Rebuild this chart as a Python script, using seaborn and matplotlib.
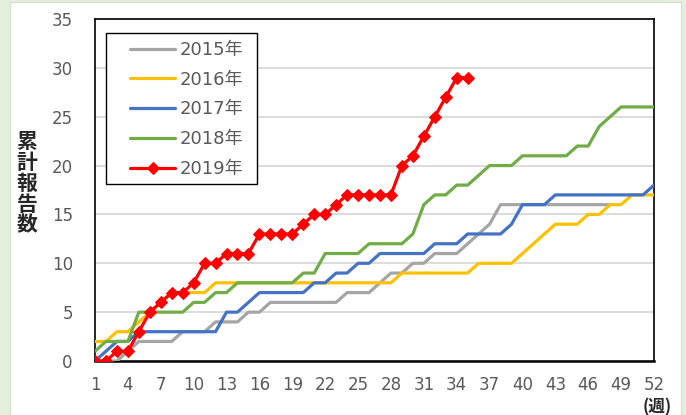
import matplotlib
matplotlib.use("Agg")
import matplotlib.pyplot as plt
import seaborn as sns
from matplotlib.patches import Rectangle

# 週ごとの累計報告数
weeks = list(range(1, 53))
years = ["2015年", "2016年", "2017年", "2018年", "2019年"]
colors = ["#A5A5A5", "#FFC000", "#4472C4", "#70AD47", "#FF0000"]

y2015 = [0, 0, 0, 1, 2, 2, 2, 2, 3, 3, 3, 4, 4, 4, 5, 5, 6, 6, 6, 6, 6, 6, 6, 7, 7, 7,
         8, 9, 9, 10, 10, 11, 11, 11, 12, 13, 14, 16, 16, 16, 16, 16, 16, 16, 16, 16, 16, 16]
y2016 = [2, 2, 3, 3, 4, 5, 6, 7, 7, 7, 7, 8, 8, 8, 8, 8, 8, 8, 8, 8, 8, 8, 8, 8, 8, 8,
         8, 8, 9, 9, 9, 9, 9, 9, 9, 10, 10, 10, 10, 11, 12, 13, 14, 14, 14, 15, 15, 16, 16, 17, 17, 17]
y2017 = [0, 1, 2, 2, 3, 3, 3, 3, 3, 3, 3, 3, 5, 5, 6, 7, 7, 7, 7, 7, 8, 8, 9, 9, 10, 10,
         11, 11, 11, 11, 11, 12, 12, 12, 13, 13, 13, 13, 14, 16, 16, 16, 17, 17, 17, 17, 17, 17, 17, 17, 17, 18]
y2018 = [1, 2, 2, 2, 5, 5, 5, 5, 5, 6, 6, 7, 7, 8, 8, 8, 8, 8, 8, 9, 9, 11, 11, 11, 11, 12,
         12, 12, 12, 13, 16, 17, 17, 18, 18, 19, 20, 20, 20, 21, 21, 21, 21, 21, 22, 22, 24, 25, 26, 26, 26, 26]
y2019 = [0, 0, 1, 1, 3, 5, 6, 7, 7, 8, 10, 10, 11, 11, 11, 13, 13, 13, 13, 14, 15, 15, 16, 17, 17,
         17, 17, 17, 20, 21, 23, 25, 27, 29, 29]

series = [y2015, y2016, y2017, y2018, y2019]

sns.set_theme(style="white")
plt.rcParams['font.family'] = ['DejaVu Sans', 'Noto Sans CJK JP']

W, H = 686, 415
fig = plt.figure(figsize=(W / 100, H / 100), dpi=100)
fig.patch.set_facecolor("#E4EFDC")
# 白いチャート領域
fig.add_artist(Rectangle((10 / W, 0), 671 / W, 413 / H, transform=fig.transFigure,
                         facecolor="white", edgecolor="#D3DDCB", lw=0.8, zorder=0))

ax = fig.add_axes([95 / W, 1 - 361 / H, 559 / W, 342 / H])
ax.set_facecolor("white")

for name, vals, c in zip(years, series, colors):
    kw = {}
    if name == "2019年":
        kw = dict(marker="D", markersize=6, markeredgecolor=c, markerfacecolor=c)
    sns.lineplot(x=weeks[:len(vals)], y=vals, color=c, linewidth=2.3, label=name,
                 ax=ax, zorder=3, **kw)

ax.set_xlim(1, 52)
ax.set_ylim(0, 35)
ax.set_xticks(range(1, 53, 3))
ax.set_yticks(range(0, 36, 5))
ax.tick_params(axis="both", length=0, labelsize=12, labelcolor="#595959")
ax.tick_params(axis="y", pad=16)
ax.tick_params(axis="x", pad=11)
ax.set_xlabel("")
ax.set_ylabel("")
ax.yaxis.grid(True, color="#D9D9D9", linewidth=1.3)
ax.set_axisbelow(True)
for s in ax.spines.values():
    s.set_color("black")
    s.set_linewidth(1.2)
ax.spines["bottom"].set_linewidth(1.8)

# 凡例（枠は別に描く）
ax.add_patch(Rectangle((11 / 559, (361 - 184) / 342), 151 / 559, 151 / 342,
                       transform=ax.transAxes, facecolor="white", edgecolor="black",
                       lw=1.0, zorder=2.5))
leg = ax.legend(loc="upper left", bbox_to_anchor=((130 - 95) / 559, (361 - 41) / 342),
                frameon=False, fontsize=13, handlelength=2.5, handletextpad=0.25,
                labelspacing=0.65, borderpad=0, borderaxespad=0)
for t in leg.get_texts():
    t.set_color("#595959")

fig.text(27 / W, 1 - 183 / H, "累\n計\n報\n告\n数", ha="center", va="center",
         fontsize=15, fontweight="bold", family=["Noto Sans CJK JP"], linespacing=1.0)
fig.text(657 / W, 1 - 398 / H, "(週)", ha="center", va="top", fontsize=12,
         fontweight="bold", family=["Noto Sans CJK JP"])

fig.savefig("out.png", dpi=100, facecolor=fig.get_facecolor())
